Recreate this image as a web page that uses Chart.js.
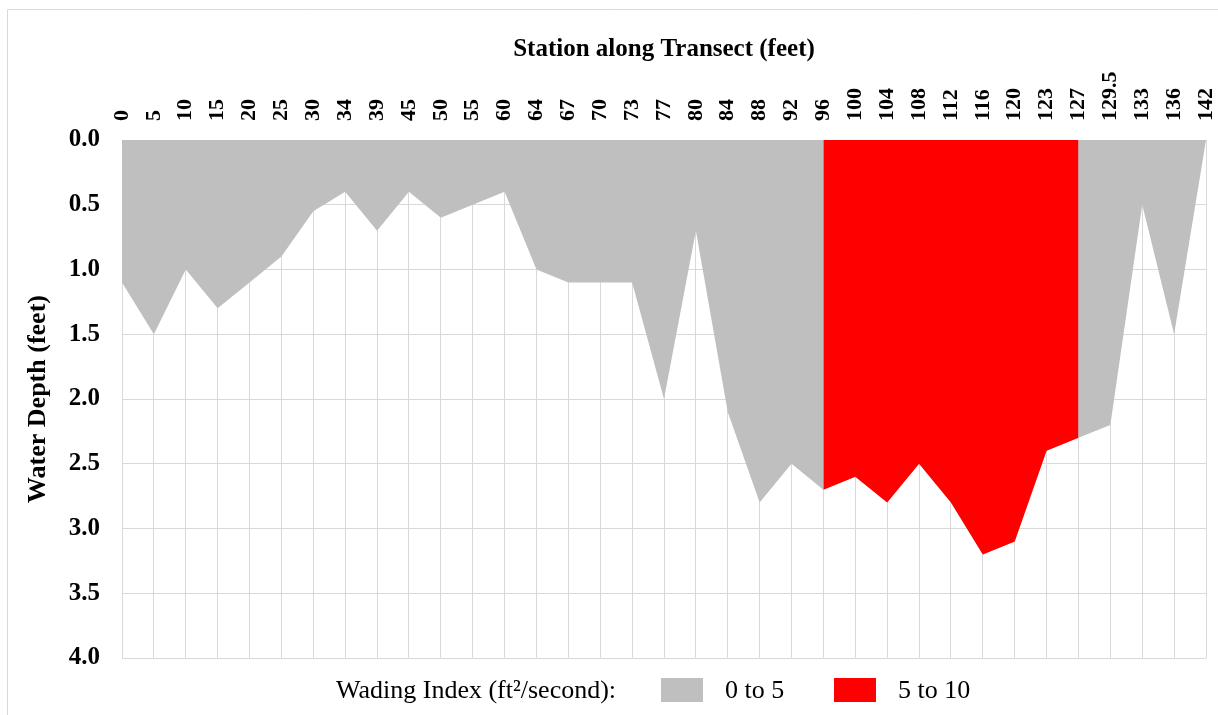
<!DOCTYPE html>
<html>
<head>
<meta charset="utf-8">
<script src="https://cdn.jsdelivr.net/npm/chart.js@4/dist/chart.umd.min.js"></script>
<style>
  body { margin: 0; background: #fff; }
  #wrap { width: 1218px; height: 715px; position: relative; }
</style>
</head>
<body>
<div id="wrap"><canvas id="chart"></canvas></div>
<script>
"use strict"

// stations along the transect (feet)
const stations = ["0", "5", "10", "15", "20", "25", "30", "34", "39", "45", "50", "55", "60",
    "64", "67", "70", "73", "77", "80", "84", "88", "92", "96", "100", "104", "108", "112",
    "116", "120", "123", "127", "129.5", "133", "136", "142"]

// water depth at each station (feet)
const depth = [1.1, 1.5, 1.0, 1.3, 1.1, 0.9, 0.55, 0.4, 0.7, 0.4, 0.6, 0.5, 0.4,
    1.0, 1.1, 1.1, 1.1, 2.0, 0.7, 2.1, 2.8, 2.5, 2.7, 2.6, 2.8, 2.5, 2.8,
    3.2, 3.1, 2.4, 2.3, 2.2, 0.5, 1.5, 0.0]

// wading index 5 to 10 only between station 96 and 127
const depthHigh = [null, null, null, null, null, null, null, null, null, null, null, null, null,
    null, null, null, null, null, null, null, null, null, 2.7, 2.6, 2.8, 2.5, 2.8,
    3.2, 3.1, 2.4, 2.3, null, null, null, null]

const depthTicks = [0, 0.5, 1, 1.5, 2, 2.5, 3, 3.5, 4]
const seriesNames = ["0 to 5", "5 to 10"]
const seriesColors = ["#bfbfbf", "#ff0000"]

const serif = "'Liberation Serif', 'Times New Roman', serif"
const gridColor = "#d9d9d9"
const xTickSize = 22

// legend at the bottom with the leading caption, plus the outer frame
const legendPlugin = {
    id: "wadingLegend",
    afterDraw(chart) {
        const ctx = chart.ctx
        ctx.save()
        ctx.strokeStyle = gridColor
        ctx.lineWidth = 1
        ctx.beginPath()
        ctx.moveTo(7.5, 715)
        ctx.lineTo(7.5, 9.5)
        ctx.lineTo(1218, 9.5)
        ctx.stroke()

        ctx.fillStyle = "#000"
        ctx.textBaseline = "middle"
        ctx.font = "26px " + serif
        ctx.fillText("Wading Index (ft\u00b2/second):", 336, 691)

        const boxX = [661, 834]
        for (let i = 0; i < seriesNames.length; i++) {
            ctx.fillStyle = seriesColors[i]
            ctx.fillRect(boxX[i], 678, 42, 24)
            ctx.fillStyle = "#000"
            ctx.fillText(seriesNames[i], boxX[i] + 64, 691)
        }
        ctx.restore()
    }
}

new Chart(document.getElementById("chart"), {
    type: "line",
    data: {
        labels: stations,
        datasets: [
            {label: seriesNames[0], data: depth, backgroundColor: seriesColors[0], borderWidth: 0,
                pointRadius: 0, fill: "origin", order: 2},
            {label: seriesNames[1], data: depthHigh, backgroundColor: seriesColors[1], borderWidth: 0,
                pointRadius: 0, fill: "origin", order: 1}
        ]
    },
    options: {
        responsive: true,
        maintainAspectRatio: false,
        animation: false,
        layout: {padding: {top: 20, right: 12, bottom: 57, left: 0}},
        plugins: {legend: {display: false}, tooltip: {enabled: false}},
        scales: {
            x: {
                position: "top",
                offset: false,
                grid: {color: gridColor, drawTicks: false},
                border: {display: false},
                ticks: {autoSkip: false, maxRotation: 90, minRotation: 90, padding: 19, color: "#000",
                    labelOffset: xTickSize * 1.2,
                    font: {family: serif, size: xTickSize, weight: "bold"}},
                title: {display: true, text: "Station along Transect (feet)", color: "#000",
                    padding: {top: 15, bottom: 0}, font: {family: serif, size: 25, weight: "bold"}},
                afterFit(scale) {
                    scale.height = 120
                    scale.paddingLeft = 0
                    scale.paddingRight = 0
                }
            },
            y: {
                reverse: true,
                min: 0,
                max: 4,
                afterBuildTicks(scale) { scale.ticks = depthTicks.map(v => ({value: v})) },
                grid: {color: gridColor, drawTicks: false},
                border: {display: false},
                ticks: {padding: 22, color: "#000", callback: v => Number(v).toFixed(1),
                    font: {family: serif, size: 25, weight: "bold"}},
                title: {display: true, text: "Water Depth (feet)", color: "#000",
                    padding: {top: 23, bottom: 0}, font: {family: serif, size: 26, weight: "bold"}},
                afterFit(scale) { scale.width = 122 }
            }
        }
    },
    plugins: [legendPlugin]
})
</script>
</body>
</html>
